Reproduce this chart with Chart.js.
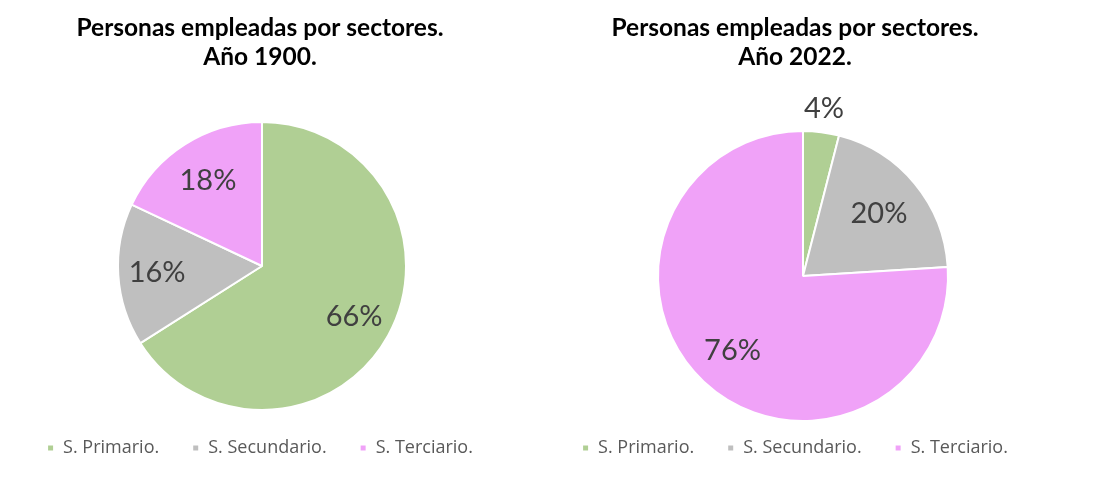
<!DOCTYPE html>
<html lang="es">
<head>
    <meta charset="UTF-8">
    <title>Personas empleadas por sectores</title>
    <script src="https://cdn.jsdelivr.net/npm/chart.js"></script>
    <style>
        body {
            margin: 0;
            padding: 0;
            background: white;
            width: 1114px;
            height: 490px;
            position: relative;
            overflow: hidden;
        }
        .box {
            position: absolute;
            top: 0;
            width: 520px;
            height: 490px;
        }
        #box1900 { left: 0px; }
        #box2022 { left: 535px; }
    </style>
</head>
<body>
    <div class="box" id="box1900"><canvas id="chart1900"></canvas></div>
    <div class="box" id="box2022"><canvas id="chart2022"></canvas></div>

    <script>
        // datos
        var sectores = ['S. Primario.', 'S. Secundario.', 'S. Terciario.'];
        var valores1900 = [66, 16, 18];
        var valores2022 = [4, 20, 76];
        var titulo1900 = ['Personas empleadas por sectores.', 'Año 1900.'];
        var titulo2022 = ['Personas empleadas por sectores.', 'Año 2022.'];
        var colores = ['#B0CF94', '#BFBFBF', '#F0A2F8'];

        // mueve el centro de la tarta sin mover titulo ni leyenda
        var desplazarPlugin = {
            id: 'desplazar',
            afterLayout: function (chart, args, opts) {
                chart.chartArea.left += opts.dx;
                chart.chartArea.right += opts.dx;
            }
        };

        // etiquetas de porcentaje dentro (o fuera) de cada porción
        var etiquetasPlugin = {
            id: 'etiquetas',
            afterDatasetsDraw: function (chart, args, opts) {
                var ctx = chart.ctx;
                var meta = chart.getDatasetMeta(0);
                var data = chart.data.datasets[0].data;
                var total = data.reduce(function (a, b) { return a + b; }, 0);
                ctx.save();
                ctx.font = opts.font;
                ctx.fillStyle = '#404040';
                ctx.textAlign = 'center';
                ctx.textBaseline = 'middle';
                meta.data.forEach(function (arc, i) {
                    var p = arc.getProps(['x', 'y', 'startAngle', 'endAngle', 'outerRadius'], true);
                    var mid = (p.startAngle + p.endAngle) / 2;
                    var r = p.outerRadius * opts.factor[i];
                    var txt = Math.round(data[i] / total * 100) + '%';
                    ctx.fillText(txt, p.x + Math.cos(mid) * r, p.y + Math.sin(mid) * r);
                });
                ctx.restore();
            }
        };

        function crearPie(id, valores, titulo, radio, espacioTitulo, dx, factor) {
            var ctx = document.getElementById(id).getContext('2d');
            return new Chart(ctx, {
                type: 'pie',
                data: {
                    labels: sectores,
                    datasets: [{
                        data: valores,
                        backgroundColor: colores,
                        borderColor: '#ffffff',
                        borderWidth: 2,
                        radius: radio
                    }]
                },
                plugins: [desplazarPlugin, etiquetasPlugin],
                options: {
                    responsive: true,
                    maintainAspectRatio: false,
                    animation: false,
                    layout: { padding: { top: 0, bottom: 23, left: 0, right: 0 } },
                    plugins: {
                        title: {
                            display: true,
                            text: titulo,
                            color: '#000000',
                            font: { family: 'Lato', size: 24.5, weight: 'bold', lineHeight: 1.18 },
                            padding: { top: 14, bottom: espacioTitulo }
                        },
                        legend: {
                            position: 'bottom',
                            labels: {
                                color: '#595959',
                                font: { family: 'Open Sans', size: 18 },
                                boxWidth: 7,
                                boxHeight: 7,
                                padding: 33
                            }
                        },
                        tooltip: { enabled: false },
                        desplazar: { dx: dx },
                        etiquetas: {
                            font: '29px Lato',
                            factor: factor
                        }
                    }
                }
            });
        }

        crearPie('chart1900', valores1900, titulo1900, 144, 54.2, 2, [0.73, 0.73, 0.70]);
        crearPie('chart2022', valores2022, titulo2022, 145, 74.2, 8, [1.16, 0.68, 0.71]);
    </script>
</body>
</html>
